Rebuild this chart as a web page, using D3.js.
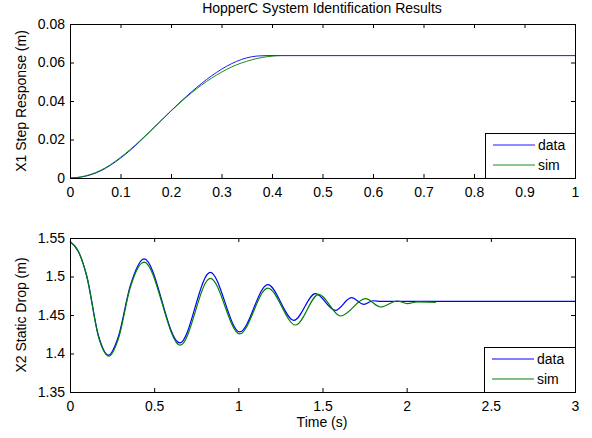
<!doctype html>
<html>
  <head>
    <meta charset="utf-8">
    <script src="https://cdnjs.cloudflare.com/ajax/libs/d3/7.8.5/d3.min.js"></script>
    <style>
      body { margin: 0; background: #fff; }
      svg text { font-family: "Liberation Sans", Arial, Helvetica, sans-serif; font-size: 14px; fill: #000; }
      .axis path, .axis line { stroke: #000; }
    </style>
  </head>
  <body>
    <svg id="chart" width="592" height="438"></svg>
  <script>
      // X1 step response
      var x1Time = [0, 0.02, 0.04, 0.06, 0.08, 0.10, 0.12, 0.14, 0.16, 0.18, 0.20, 0.22, 0.24, 0.26, 0.28, 0.30, 0.32, 0.34, 0.36, 0.38, 0.40, 1.0];
      var x1Data = [0, 0.0004, 0.0016, 0.0036, 0.0066, 0.0103, 0.0146, 0.0194, 0.0245, 0.0297, 0.0349, 0.0399, 0.0446, 0.0490, 0.0530, 0.0565, 0.0594, 0.0616, 0.0630, 0.0635, 0.0636, 0.0636];
      var x1SimTime = [0, 0.02, 0.04, 0.06, 0.08, 0.10, 0.12, 0.14, 0.16, 0.18, 0.20, 0.22, 0.24, 0.26, 0.28, 0.30, 0.32, 0.34, 0.36, 0.38, 0.40, 0.42, 1.0];
      var x1Sim = [0, 0.0005, 0.0018, 0.0039, 0.0069, 0.0107, 0.0150, 0.0197, 0.0247, 0.0298, 0.0348, 0.0396, 0.0441, 0.0482, 0.0518, 0.0550, 0.0577, 0.0598, 0.0614, 0.0626, 0.0633, 0.0636, 0.0636];

      // X2 static drop
      var x2DataTime = [0, 0.05, 0.10, 0.17, 0.228, 0.288, 0.357, 0.44, 0.652, 0.833, 1.008, 1.175, 1.33, 1.458, 1.577, 1.671, 1.746, 1.80, 1.85, 3.0];
      var x2Data = [1.5455, 1.5325, 1.500, 1.4224, 1.3978, 1.4224, 1.4872, 1.5230, 1.4137, 1.5053, 1.4280, 1.4894, 1.4431, 1.4777, 1.4560, 1.4725, 1.4639, 1.4685, 1.4677, 1.4677];
      var x2SimTime = [0, 0.05, 0.10, 0.17, 0.232, 0.29, 0.357, 0.44, 0.655, 0.833, 1.008, 1.175, 1.34, 1.478, 1.607, 1.756, 1.845, 1.944, 2.004, 2.064, 2.173];
      var x2Sim = [1.5455, 1.5325, 1.500, 1.421, 1.3965, 1.421, 1.485, 1.5187, 1.4108, 1.4975, 1.4254, 1.4850, 1.4370, 1.4768, 1.4487, 1.4712, 1.4604, 1.4682, 1.4648, 1.4670, 1.4665];

      var x1Ticks = [0, 0.1, 0.2, 0.3, 0.4, 0.5, 0.6, 0.7, 0.8, 0.9, 1];
      var y1Ticks = [0, 0.02, 0.04, 0.06, 0.08];
      var x2Ticks = [0, 0.5, 1, 1.5, 2, 2.5, 3];
      var y2Ticks = [1.35, 1.4, 1.45, 1.5, 1.55];
      var seriesNames = ["data", "sim"];
      var colors = ["#0000ff", "#008000"];

      var svg = d3.select("#chart");
      var W = 505, H = 154;

      function zip(t, v) { return t.map((d, i) => [d, v[i]]); }

      function panel(top, xDom, yDom, xt, yt, fmtY, lines, lw, ylabel, legendW) {
        var g = svg.append("g").attr("transform", `translate(70,${top})`);
        var x = d3.scaleLinear().domain(xDom).range([0, W]);
        var y = d3.scaleLinear().domain(yDom).range([H, 0]);

        var line = d3.line().x(d => x(d[0])).y(d => y(d[1])).curve(d3.curveMonotoneX);
        lines.forEach((pts, i) => {
          g.append("path").datum(pts)
            .attr("d", line)
            .style("fill", "none")
            .style("stroke", colors[i])
            .style("stroke-width", lw);
        });

        g.append("g").attr("class", "axis").attr("transform", `translate(0,${H})`)
          .call(d3.axisBottom(x).tickValues(xt).tickFormat(d3.format("")).tickSizeInner(-4).tickSizeOuter(0).tickPadding(9));
        g.append("g").attr("class", "axis")
          .call(d3.axisTop(x).tickValues(xt).tickFormat("").tickSizeInner(-4).tickSizeOuter(0));
        g.append("g").attr("class", "axis")
          .call(d3.axisLeft(y).tickValues(yt).tickFormat(fmtY).tickSizeInner(-4).tickSizeOuter(0).tickPadding(5));
        g.append("g").attr("class", "axis").attr("transform", `translate(${W},0)`)
          .call(d3.axisRight(y).tickValues(yt).tickFormat("").tickSizeInner(-4).tickSizeOuter(0));
        g.selectAll(".axis text").style("font-size", "14px").style("font-family", null);

        g.append("text")
          .attr("transform", `translate(-44,${H / 2}) rotate(-90)`)
          .attr("text-anchor", "middle")
          .text(ylabel);

        // legend box in the lower right corner
        var lg = g.append("g").attr("transform", `translate(${W - legendW},${H - 45})`);
        lg.append("rect").attr("x", 0.5).attr("y", 0.5).attr("width", legendW).attr("height", 45)
          .style("fill", "#fff").style("stroke", "#000");
        seriesNames.forEach((n, i) => {
          var yy = 12 + i * 20;
          lg.append("line").attr("x1", 8).attr("x2", 50).attr("y1", yy).attr("y2", yy)
            .style("stroke", colors[i]).style("stroke-width", lw);
          lg.append("text").attr("x", 53).attr("y", yy + 5).text(n);
        });
        return g;
      }

      panel(24, [0, 1], [0, 0.08], x1Ticks, y1Ticks, d3.format(""),
        [zip(x1Time, x1Data), zip(x1SimTime, x1Sim)], 0.9, "X1 Step Response (m)", 90);
      var g2 = panel(238, [0, 3], [1.35, 1.55], x2Ticks, y2Ticks, d3.format(""),
        [zip(x2DataTime, x2Data), zip(x2SimTime, x2Sim)], 1.2, "X2 Static Drop (m)", 91);

      svg.append("text").attr("x", 322).attr("y", 13).attr("text-anchor", "middle")
        .text("HopperC System Identification Results");
      svg.append("text").attr("x", 322).attr("y", 427).attr("text-anchor", "middle")
        .text("Time (s)");
  </script>
  </body>
</html>
